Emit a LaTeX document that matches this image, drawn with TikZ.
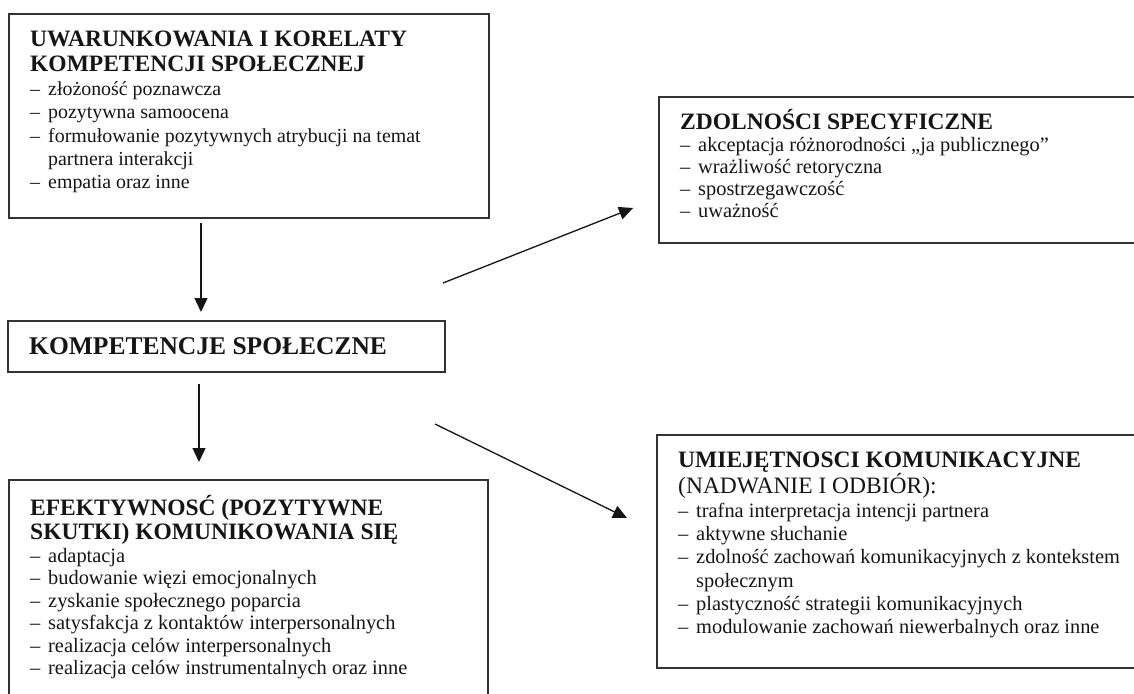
\documentclass[tikz,border=0pt]{standalone}
\usepackage{fontspec}
\setmainfont{Liberation Serif}
\usetikzlibrary{arrows.meta}
\definecolor{ink}{HTML}{151515}
\definecolor{frame}{HTML}{333333}
\newcommand{\itm}[1]{\makebox[18pt][l]{–}#1}
\tikzset{
  box/.style={draw=frame, line width=1.6pt, rectangle, inner sep=0pt, outer sep=0pt, anchor=north west},
  hd/.style={anchor=base west, inner sep=0pt, text=ink, font=\fontsize{23.5}{27}\selectfont\bfseries},
  hdr/.style={anchor=base west, inner sep=0pt, text=ink, font=\fontsize{23.5}{27}\selectfont},
  li/.style={anchor=base west, inner sep=0pt, text=ink, font=\fontsize{20.4}{23.4}\selectfont},
  lis/.style={li, font=\fontsize{19.9}{23}\selectfont},
  arr/.style={draw=ink, line width=1.3pt, -{Triangle[length=14pt,width=13pt]}}
}
\begin{document}
\begin{tikzpicture}[x=1pt,y=-1pt]
\useasboundingbox (0,0) rectangle (1134,693);
\clip (0,0) rectangle (1134,693);
% boxes
\node[box, minimum width=480pt, minimum height=204pt] (b1) at (9,14) {};
\node[box, minimum width=490pt, minimum height=146pt] (b2) at (659,97) {};
\node[box, minimum width=437pt, minimum height=51pt] (mid) at (8,321) {};
\node[box, minimum width=479pt, minimum height=230pt] (b3) at (9,480) {};
\node[box, minimum width=490pt, minimum height=233pt] (b4) at (657,435) {};
% box 1 text
\node[hd] (t1a) at (30,47) {UWARUNKOWANIA I KORELATY};
\node[hd] (t1b) at (30,71) {KOMPETENCJI SPOŁECZNEJ};
\node[lis] (t1c) at (30,95) {\itm{złożoność poznawcza}};
\node[lis] (t1d) at (30,118) {\itm{pozytywna samoocena}};
\node[lis] (t1e) at (30,142) {\itm{formułowanie pozytywnych atrybucji na temat}};
\node[lis] (t1f) at (48,165) {partnera interakcji};
\node[lis] (t1g) at (30,188) {\itm{empatia oraz inne}};
% box 2 text
\node[hd] (t2a) at (680,129) {ZDOLNOŚCI SPECYFICZNE};
\node[li] (t2b) at (680,151) {\itm{akceptacja różnorodności „ja publicznego”}};
\node[li] (t2c) at (680,173) {\itm{wrażliwość retoryczna}};
\node[li] (t2d) at (680,195) {\itm{spostrzegawczość}};
\node[li] (t2e) at (680,217) {\itm{uważność}};
% middle
\node[hd, font=\fontsize{25.5}{29}\selectfont\bfseries] (tm) at (29,354) {KOMPETENCJE SPOŁECZNE};
% box 3 text
\node[hd] (t3a) at (30,515) {EFEKTYWNOSĆ (POZYTYWNE};
\node[hd] (t3b) at (30,539) {SKUTKI) KOMUNIKOWANIA SIĘ};
\node[li] (t3c) at (30,562) {\itm{adaptacja}};
\node[li] (t3d) at (30,584) {\itm{budowanie więzi emocjonalnych}};
\node[li] (t3e) at (30,607) {\itm{zyskanie społecznego poparcia}};
\node[li] (t3f) at (30,629) {\itm{satysfakcja z kontaktów interpersonalnych}};
\node[li] (t3g) at (30,652) {\itm{realizacja celów interpersonalnych}};
\node[li] (t3h) at (30,674) {\itm{realizacja celów instrumentalnych oraz inne}};
% box 4 text
\node[hd] (t4a) at (678,467) {UMIEJĘTNOSCI KOMUNIKACYJNE};
\node[hdr] (t4b) at (678,493) {(NADWANIE I ODBIÓR):};
\node[li] (t4c) at (678,517) {\itm{trafna interpretacja intencji partnera}};
\node[li] (t4d) at (678,540) {\itm{aktywne słuchanie}};
\node[li] (t4e) at (678,563) {\itm{zdolność zachowań komunikacyjnych z kontekstem}};
\node[li] (t4f) at (696,587) {społecznym};
\node[li] (t4g) at (678,610) {\itm{plastyczność strategii komunikacyjnych}};
\node[li] (t4h) at (678,633) {\itm{modulowanie zachowań niewerbalnych oraz inne}};
% connectors
\coordinate (a1) at (201,0);
\coordinate (a2) at (199,0);
\draw[arr, shorten <=5pt, shorten >=9pt] (b1.south -| a1) -- (mid.north -| a1);
\draw[arr, shorten <=12pt, shorten >=18pt] (mid.south -| a2) -- (b3.north -| a2);
\coordinate (d1s) at (443,283);
\coordinate (d1e) at (633,208);
\coordinate (d2s) at (435,424);
\coordinate (d2e) at (627,518);
\draw[arr] (d1s) -- (d1e);
\draw[arr] (d2s) -- (d2e);
\end{tikzpicture}
\end{document}
